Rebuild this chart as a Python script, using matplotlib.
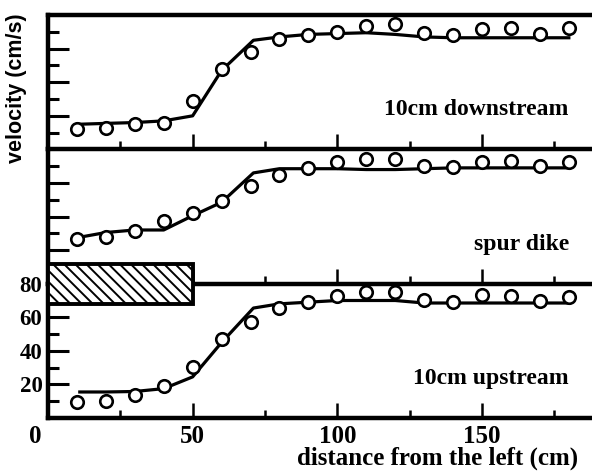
"""
Perfil de velocidad transversal aguas arriba, en el espigon y aguas abajo.
Tres paneles apilados que comparten el eje de distancia.
"""

import matplotlib
matplotlib.use("Agg")
import matplotlib.pyplot as plt
from matplotlib.patches import Rectangle
from matplotlib.transforms import ScaledTranslation

# --- Datos ---------------------------------------------------------------
dist = [10, 20, 30, 40, 50, 60, 70, 80, 90, 100, 110, 120, 130, 140, 150, 160, 170, 180]
fit_dist = [11, 20, 30, 40, 50, 60, 71, 80, 90, 100, 110, 120, 130, 140, 150, 160, 170, 180]

down_obs = [12, 13, 15, 16, 29, 48, 58, 65.5, 68, 70, 73.5, 74.5, 69.5, 68, 71.5, 72.5, 68.5, 72.5]
down_fit = [15, 15.5, 16, 17, 20, 47, 65, 67, 68.5, 69, 69.5, 68.5, 67, 66.5, 66.5, 66.5, 66.5, 66.5]

spur_obs = [26.5, 28, 31.5, 37.5, 42, 49, 58, 65, 69, 72.4, 74, 74.3, 70.4, 69.8, 72.4, 73, 70, 72.6]
spur_fit = [27.7, 30.5, 32, 32, 40.5, 48.5, 66, 68.5, 68.5, 68.5, 68, 68, 68.5, 69, 69, 69, 69, 69]

up_obs = [9.5, 10.3, 13.7, 19, 30.5, 47, 57, 65.5, 69, 72.6, 75, 75, 70, 69, 73, 72.6, 69.6, 72]
up_fit = [15.5, 15.5, 15.8, 17.5, 24.5, 45, 65.5, 68, 69, 70, 70, 70, 68.5, 68.5, 68.5, 68.5, 68.5, 68.5]

panel_labels = ["10cm downstream", "spur dike", "10cm upstream"]
y_ticklabels = ["20", "40", "60", "80"]
x_ticklabels = ["0", "50", "100", "150"]

# espigon (zona rayada) en coordenadas del panel inferior
dike_x, dike_w = 0, 50
dike_y, dike_h = 68, 24

SERIF = ["Liberation Serif", "DejaVu Serif"]
plt.rcParams["hatch.linewidth"] = 1.4

fig, axes = plt.subplots(3, 1, figsize=(5.92, 4.72), dpi=100, sharex=True,
                         gridspec_kw=dict(hspace=0))
fig.subplots_adjust(left=0.081, right=1.0, bottom=0.1144, top=0.968)

series = [(down_obs, down_fit), (spur_obs, spur_fit), (up_obs, up_fit)]
for i, (ax, (obs, fit), lab) in enumerate(zip(axes, series, panel_labels)):
    ax.set_facecolor("none")   # que el panel de abajo no tape la linea separadora
    ax.plot(fit_dist, fit, color="black", lw=2.3, zorder=2)
    ax.plot(dist, obs, "o", ms=9, mfc="white", mec="black", mew=1.9, zorder=3)
    ax.set_ylim(0, 80)
    ax.set_xlim(0, 188)
    ax.spines["right"].set_visible(False)
    if i > 0:
        ax.spines["top"].set_visible(False)
    for s in ("left", "bottom", "top"):
        ax.spines[s].set_linewidth(3.2)

    ax.set_yticks([20, 40, 60])
    ax.set_yticks([10, 30, 50, 70], minor=True)
    ax.set_xticks([50, 100, 150])
    ax.set_xticks([25, 75, 125, 175], minor=True)
    ax.tick_params(axis="y", which="major", direction="in", length=15, width=2.2)
    ax.tick_params(axis="y", which="minor", direction="in", length=8, width=2.2)
    ax.tick_params(axis="x", which="major", direction="in", length=11, width=1.8)
    ax.tick_params(axis="x", which="minor", direction="in", length=6, width=1.8)
    ax.tick_params(labelbottom=False, labelleft=False)

    ax.text(180, 23.5, lab, ha="right", va="center", fontsize=17,
            fontweight="bold", family=SERIF)

# panel inferior: etiquetas numericas
ax = axes[2]
ax.set_yticks([20, 40, 60, 80])
ax.set_yticklabels(y_ticklabels)
ax.set_xticks([0, 50, 100, 150])
ax.set_xticklabels(x_ticklabels)
ax.tick_params(axis="y", which="major", length=15, labelleft=True, pad=4,
               labelsize=16.5)
ax.tick_params(axis="x", which="major", labelbottom=True, pad=5, labelsize=18)
for t in ax.get_xticklabels() + ax.get_yticklabels():
    t.set_family(SERIF)
    t.set_fontweight("bold")
# el "0" del original queda algo a la izquierda del eje
zero = ax.get_xticklabels()[0]
zero.set_transform(zero.get_transform()
                   + ScaledTranslation(-13 / 100, 0, fig.dpi_scale_trans))

ax.add_patch(Rectangle((dike_x, dike_y), dike_w, dike_h, facecolor="white",
                       edgecolor="black", lw=2.8, hatch="\\\\\\", clip_on=False,
                       zorder=5))

fig.text(578 / 592, 1 - 458 / 472, "distance from the left (cm)", ha="right",
         va="center", fontsize=18, fontweight="bold", family=SERIF)
fig.text(17 / 592, 1 - 88 / 472, "velocity (cm/s)", rotation=90, ha="center",
         va="center", fontsize=15.5, fontweight="bold",
         family=["Liberation Sans", "DejaVu Sans"])

fig.savefig("out.png", dpi=100)
